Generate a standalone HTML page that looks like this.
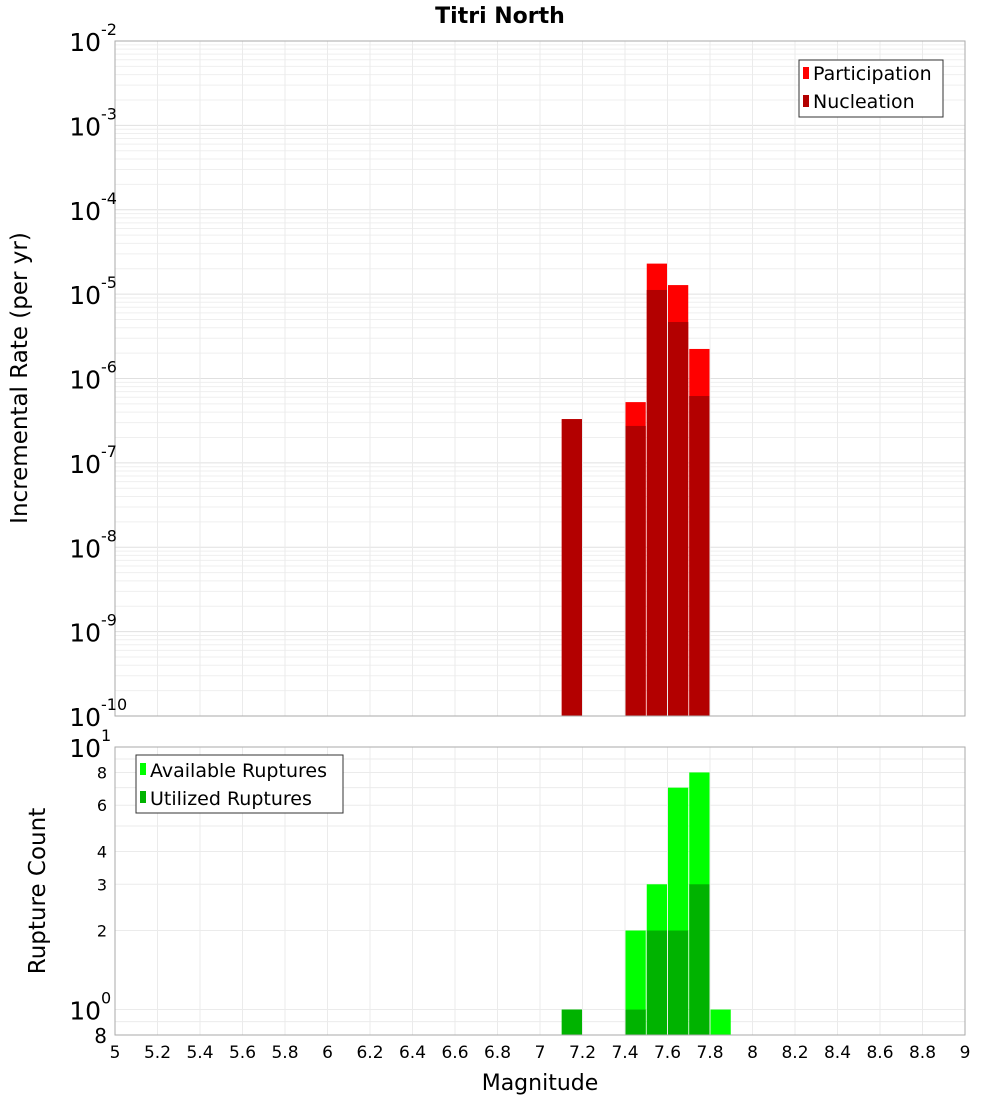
<!DOCTYPE html>
<html><head><meta charset="utf-8"><style>
body{margin:0;background:#fff;}
svg{display:block;font-family:"DejaVu Sans","Liberation Sans",sans-serif;}
</style></head><body>
<svg id="c" width="1000" height="1100" xmlns="http://www.w3.org/2000/svg">
<text x="500" y="23" text-anchor="middle" font-size="22" font-weight="bold">Titri North</text>
<g id="grid"></g>
<g id="bars"></g>
<rect x="115" y="41" width="850" height="675" fill="none" stroke="#aaa"/>
<rect x="115" y="747" width="850" height="288" fill="none" stroke="#aaa"/>
<g id="labels"></g>
<text transform="translate(27,378) rotate(-90)" text-anchor="middle" font-size="23">Incremental Rate (per yr)</text>
<text transform="translate(45,891) rotate(-90)" text-anchor="middle" font-size="23">Rupture Count</text>
<text x="540" y="1090" text-anchor="middle" font-size="22">Magnitude</text>
<g>
<rect x="799" y="60" width="144" height="57" fill="#fff" stroke="#333"/>
<rect x="803" y="67" width="6" height="12" fill="#ff0000"/>
<text x="813" y="80" font-size="19">Participation</text>
<rect x="803" y="95" width="6" height="12" fill="#b30000"/>
<text x="813" y="108" font-size="19">Nucleation</text>
</g>
<g>
<rect x="136" y="755" width="207" height="58" fill="#fff" stroke="#333"/>
<rect x="140" y="763" width="6" height="12" fill="#00ff00"/>
<text x="150" y="777" font-size="19">Available Ruptures</text>
<rect x="140" y="791" width="6" height="12" fill="#00b300"/>
<text x="150" y="805" font-size="19">Utilized Ruptures</text>
</g>
</svg>
<script>
const mags = [7.15, 7.45, 7.55, 7.65, 7.75, 7.85];
const participation = [3.3e-7, 5.25e-7, 2.3e-5, 1.28e-5, 2.24e-6, 0];
const nucleation = [3.3e-7, 2.74e-7, 1.12e-5, 4.67e-6, 6.2e-7, 0];
const available = [1, 2, 3, 7, 8, 1];
const utilized = [1, 1, 2, 2, 3, 0];
const xTicks = ["5","5.2","5.4","5.6","5.8","6","6.2","6.4","6.6","6.8","7","7.2","7.4","7.6","7.8","8","8.2","8.4","8.6","8.8","9"];
const topExps = [-2,-3,-4,-5,-6,-7,-8,-9,-10];
const botTicks = ["8","6","4","3","2"];

const NS="http://www.w3.org/2000/svg";
const X0=115,X1=965,XMIN=5,XMAX=9;
const x=m=>X0+(m-XMIN)/(XMAX-XMIN)*(X1-X0);
const yTop=v=>41+(-2-Math.log10(v))/8*675;
const BMIN=Math.log10(0.8),BMAX=1;
const yBot=v=>747+(BMAX-Math.log10(v))/(BMAX-BMIN)*288;
function mk(tag,attrs,parent){const e=document.createElementNS(NS,tag);for(const k in attrs)e.setAttribute(k,attrs[k]);document.getElementById(parent).appendChild(e);return e;}
for(let d=-10;d<-2;d++){for(let k=1;k<=9;k++){const y=yTop(k*Math.pow(10,d));const l=mk('line',{x1:X0,x2:X1,y1:y,y2:y,stroke:k==1?'#e0e0e0':'#efefef'},'grid');

}}
[0.8,0.9,1,2,3,4,5,6,7,8,9].forEach(v=>{const y=yBot(v);const l=mk('line',{x1:X0,x2:X1,y1:y,y2:y,stroke:'#ebebeb'},'grid');

});
xTicks.forEach(t=>{const xx=x(parseFloat(t));
const a=mk('line',{x1:xx,x2:xx,y1:41,y2:716,stroke:'#ebebeb'},'grid');


const b=mk('line',{x1:xx,x2:xx,y1:747,y2:1035,stroke:'#ebebeb'},'grid');


const tx=mk('text',{x:xx,y:1058,'text-anchor':'middle','font-size':17},'labels');tx.textContent=t;

});
const W=(X1-X0)/(XMAX-XMIN)*0.1;
function bar(m,y0,y1,fill,name){const r=mk('rect',{x:x(m)-W/2+0.5,y:y1,width:W-1,height:Math.max(0,y0-y1),fill:fill},'bars');

}
mags.forEach((m,i)=>{
 if(participation[i]>0)bar(m,716,yTop(participation[i]),'#ff0000','participation-bar');
 if(nucleation[i]>0)bar(m,716,yTop(nucleation[i]),'#b30000','nucleation-bar');
 if(available[i]>0)bar(m,1035,yBot(available[i]),'#00ff00','available-bar');
 if(utilized[i]>0)bar(m,1035,yBot(utilized[i]),'#00b300','utilized-bar');
});
function pow(xr,y,e,name){const t=mk('text',{x:xr,y:y+10,'text-anchor':'end','font-size':25},'labels');t.textContent='10';


const s=mk('text',{x:xr,y:y-6,'font-size':16},'labels');s.textContent=e;

}
topExps.forEach(e=>pow(101,yTop(Math.pow(10,e)),String(e),'top-y-tick-label'));
pow(101,yBot(10),'1','bottom-y-tick-label');
pow(101,yBot(1),'0','bottom-y-tick-label');
botTicks.forEach(t=>{const s=mk('text',{x:107,y:yBot(+t)+6,'text-anchor':'end','font-size':16},'labels');s.textContent=t;

});
const b8=mk('text',{x:107,y:1043,'text-anchor':'end','font-size':20},'labels');b8.textContent='8';


</script>
</body></html>
